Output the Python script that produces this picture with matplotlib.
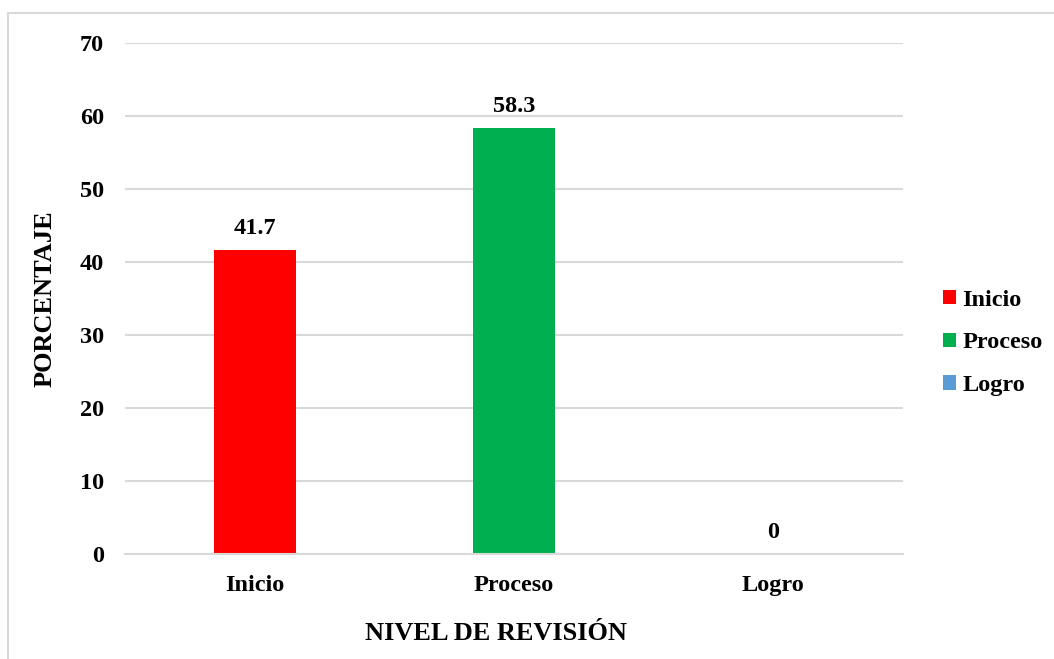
import matplotlib.pyplot as plt
from matplotlib.patches import Rectangle, Patch

categories = ['Inicio', 'Proceso', 'Logro']
values = [41.7, 58.3, 0]
value_labels = ['41.7', '58.3', '0']
colors = ['#FF0000', '#00B050', '#5B9BD5']
yticks = [0, 10, 20, 30, 40, 50, 60, 70]

plt.rcParams['font.family'] = ['Liberation Serif', 'DejaVu Serif']
plt.rcParams['font.weight'] = 'bold'

fig = plt.figure(figsize=(10.54, 6.59), dpi=100)
ax = fig.add_axes([125 / 1054, 1 - 554 / 659, 778 / 1054, 511 / 659])

# outer chart frame (light gray, runs off right/bottom)
fig.patches.append(Rectangle((8 / 1054, -0.05), 1.2, 1 - 13 / 659 + 0.05,
                             transform=fig.transFigure, fill=False,
                             edgecolor='#d9d9d9', linewidth=1.5))

x = range(len(categories))
bars = ax.bar(x, values, width=0.317, color=colors)

for xi, v, lab in zip(x, values, value_labels):
    ax.annotate(lab, (xi, v), xytext=(0, 15.5), textcoords='offset points',
                ha='center', va='center', fontsize=17.5, fontweight='bold')

ax.set_xlim(-0.5, 2.5)
ax.set_ylim(0, 70)
ax.set_yticks(yticks)
ax.set_xticks(list(x))
ax.set_xticklabels(categories)
ax.tick_params(axis='both', length=0, labelsize=17.5)
ax.tick_params(axis='y', pad=15)
ax.tick_params(axis='x', pad=15)
ax.grid(axis='y', color='#d9d9d9', linewidth=1.5)
ax.set_axisbelow(True)
for s in ['top', 'right', 'left']:
    ax.spines[s].set_visible(False)
ax.spines['bottom'].set_color('#d9d9d9')
ax.spines['bottom'].set_linewidth(1.5)

fig.text(45 / 1054, 1 - 299 / 659, 'PORCENTAJE', rotation=90, ha='center',
         va='center', fontsize=19, fontweight='bold')
fig.text(496 / 1054, 1 - 633 / 659, 'NIVEL DE REVISIÓN', ha='center',
         va='center', fontsize=19, fontweight='bold')

handles = [Patch(facecolor=c, edgecolor='none') for c in colors]
fig.legend(handles, categories, loc='center left',
           bbox_to_anchor=(921 / 1054, 1 - 343 / 659), frameon=False,
           fontsize=17.5, handlelength=0.55, handleheight=0.55,
           handletextpad=0.25, labelspacing=0.9)

fig.savefig('out.png', dpi=100)
